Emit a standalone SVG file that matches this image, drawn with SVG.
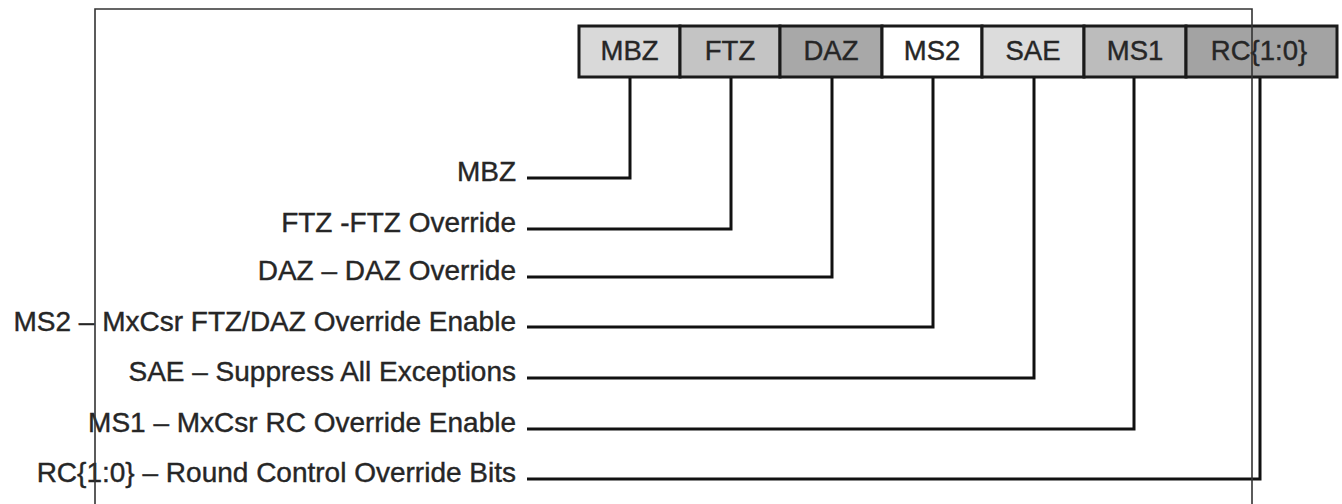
<svg xmlns="http://www.w3.org/2000/svg" width="1342" height="504" viewBox="0 0 1342 504">
<style>
.cell{stroke:#1a1a1a;stroke-width:3}
.bl{font-family:"Liberation Sans",Arial,sans-serif;font-size:27.5px;fill:#262626;stroke:#262626;stroke-width:0.4;text-anchor:middle}
.lb{font-family:"Liberation Sans",Arial,sans-serif;font-size:28px;fill:#262626;stroke:#262626;stroke-width:0.4;text-anchor:end}
.conn{fill:none;stroke:#111;stroke-width:3}
.frame{fill:none;stroke:#333;stroke-width:1.6}
</style>
<rect width="1342" height="504" fill="#fff"/>
<g id="register">
<g id="cell-mbz"><rect class="cell" x="579" y="26" width="101" height="51" fill="#d9d9d9"/><text class="bl" x="629.5" y="60">MBZ</text></g>
<g id="cell-ftz"><rect class="cell" x="680" y="26" width="100" height="51" fill="#c4c4c4"/><text class="bl" x="730" y="60">FTZ</text></g>
<g id="cell-daz"><rect class="cell" x="780" y="26" width="102" height="51" fill="#a8a8a8"/><text class="bl" x="831" y="60">DAZ</text></g>
<g id="cell-ms2"><rect class="cell" x="882" y="26" width="100" height="51" fill="#ffffff"/><text class="bl" x="932" y="60">MS2</text></g>
<g id="cell-sae"><rect class="cell" x="982" y="26" width="102" height="51" fill="#dcdcdc"/><text class="bl" x="1033" y="60">SAE</text></g>
<g id="cell-ms1"><rect class="cell" x="1084" y="26" width="102" height="51" fill="#bcbcbc"/><text class="bl" x="1135" y="60">MS1</text></g>
<g id="cell-rc"><rect class="cell" x="1186" y="26" width="151" height="51" fill="#a3a3a3"/><text class="bl" x="1259" y="60">RC{1:0}</text></g>
</g>
<g id="connectors">
<polyline class="conn" points="630,78 630,178 527,178"/>
<polyline class="conn" points="731,78 731,229 527,229"/>
<polyline class="conn" points="832,78 832,277 527,277"/>
<polyline class="conn" points="933,78 933,327 527,327"/>
<polyline class="conn" points="1034,78 1034,378 527,378"/>
<polyline class="conn" points="1134,78 1134,429 527,429"/>
<polyline class="conn" points="1260,78 1260,479 527,479"/>
</g>
<g id="labels">
<g id="label-mbz"><text class="lb" x="516" y="181">MBZ</text></g>
<g id="label-ftz"><text class="lb" x="516" y="232">FTZ -FTZ Override</text></g>
<g id="label-daz"><text class="lb" x="516" y="280">DAZ – DAZ Override</text></g>
<g id="label-ms2"><text class="lb" x="516" y="331">MS2 – MxCsr FTZ/DAZ Override Enable</text></g>
<g id="label-sae"><text class="lb" x="516" y="381">SAE – Suppress All Exceptions</text></g>
<g id="label-ms1"><text class="lb" x="516" y="432">MS1 – MxCsr RC Override Enable</text></g>
<g id="label-rc"><text class="lb" x="516" y="482">RC{1:0} – Round Control Override Bits</text></g>
</g>
<g id="frame">
<polyline class="frame" points="95,504 95,9 1252,9 1252,504"/>
</g>
</svg>
